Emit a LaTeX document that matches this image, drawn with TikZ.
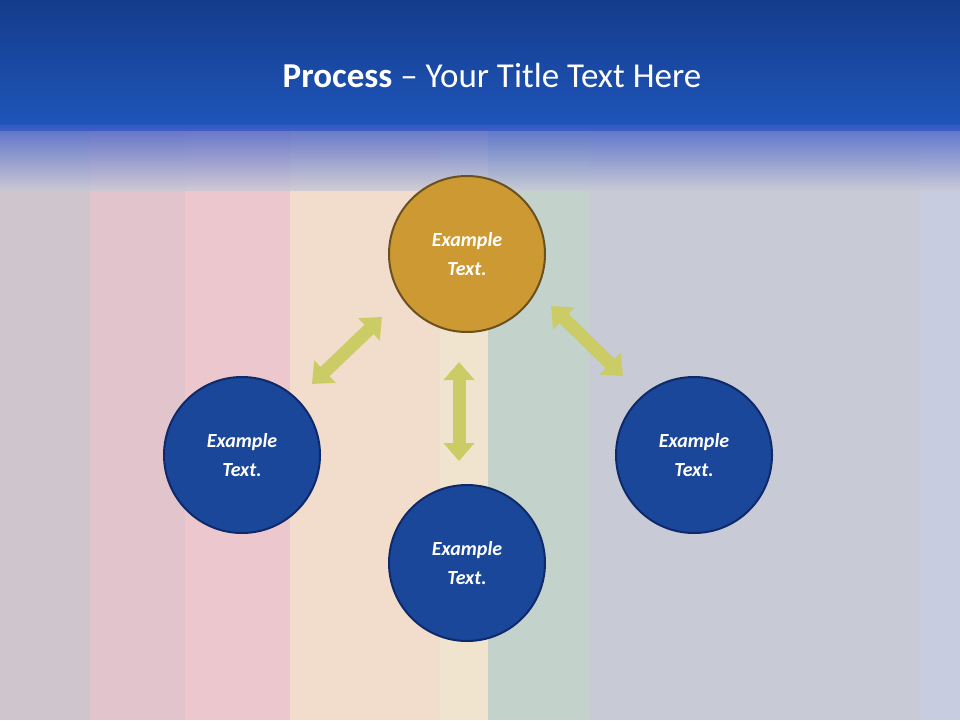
\documentclass[tikz,border=0pt]{standalone}
\usepackage{fontspec}
\setmainfont{Carlito}
\usetikzlibrary{arrows.meta}
\definecolor{bluec}{HTML}{1A4799}
\definecolor{bluee}{HTML}{0F2A6A}
\definecolor{goldc}{HTML}{CC9933}
\definecolor{golde}{HTML}{6B5020}
\definecolor{arr}{HTML}{CCCC66}
\tikzset{
 circ/.style={circle,minimum size=156pt,line width=2pt,text=white,font=\fontsize{20}{29}\selectfont\bfseries\itshape,align=center,inner sep=0pt},
 bl/.style={circ,fill=bluec,draw=bluee},
 gd/.style={circ,fill=goldc,draw=golde},
 dbl/.style={arr,line width=13pt,{Triangle[width=30pt,length=18pt]}-{Triangle[width=30pt,length=18pt]}}
}
\begin{document}
\begin{tikzpicture}[x=1pt,y=-1pt]
\useasboundingbox (0,0) rectangle (960,720);
\fill[color={rgb,255:red,207;green,197;blue,204}] (0,0) rectangle (960,720);
\fill[color={rgb,255:red,226;green,196;blue,204}] (90,0) rectangle (290,720);
\fill[color={rgb,255:red,236;green,200;blue,206}] (185,0) rectangle (290,720);
\fill[color={rgb,255:red,242;green,220;blue,203}] (290,0) rectangle (440,720);
\fill[color={rgb,255:red,240;green,228;blue,206}] (440,0) rectangle (488,720);
\fill[color={rgb,255:red,195;green,211;blue,204}] (488,0) rectangle (590,720);
\fill[color={rgb,255:red,200;green,202;blue,214}] (590,0) rectangle (920,720);
\fill[color={rgb,255:red,200;green,204;blue,224}] (920,0) rectangle (960,720);
\shade[top color={rgb,255:red,30;green,80;blue,180},bottom color={rgb,255:red,30;green,80;blue,180},opacity=1] (0,0) rectangle (960,130);
\shade[top color={rgb,255:red,20;green,60;blue,140},bottom color={rgb,255:red,30;green,85;blue,185}] (0,0) rectangle (960,125);
\shade[top color={rgb,255:red,60;green,90;blue,200},bottom color={rgb,255:red,200;green,200;blue,214},fill opacity=0.8] (0,125) rectangle (960,190);
\node[text=white,font=\fontsize{35}{40}\selectfont] (title) at (492,75) {\textbf{Process} – Your Title Text Here};
\node[gd] (t) at (467,254) {Example\\Text.};
\node[bl] (l) at (242,455) {Example\\Text.};
\node[bl] (b) at (467,563) {Example\\Text.};
\node[bl] (r) at (694,455) {Example\\Text.};
\coordinate (a1) at (312,384); \coordinate (a2) at (382,317);
\coordinate (b1) at (459,362); \coordinate (b2) at (459,461);
\coordinate (c1) at (551,306); \coordinate (c2) at (623,376);
\draw[dbl] (a1) -- (a2);
\draw[dbl] (b1) -- (b2);
\draw[dbl] (c1) -- (c2);
\end{tikzpicture}
\end{document}
